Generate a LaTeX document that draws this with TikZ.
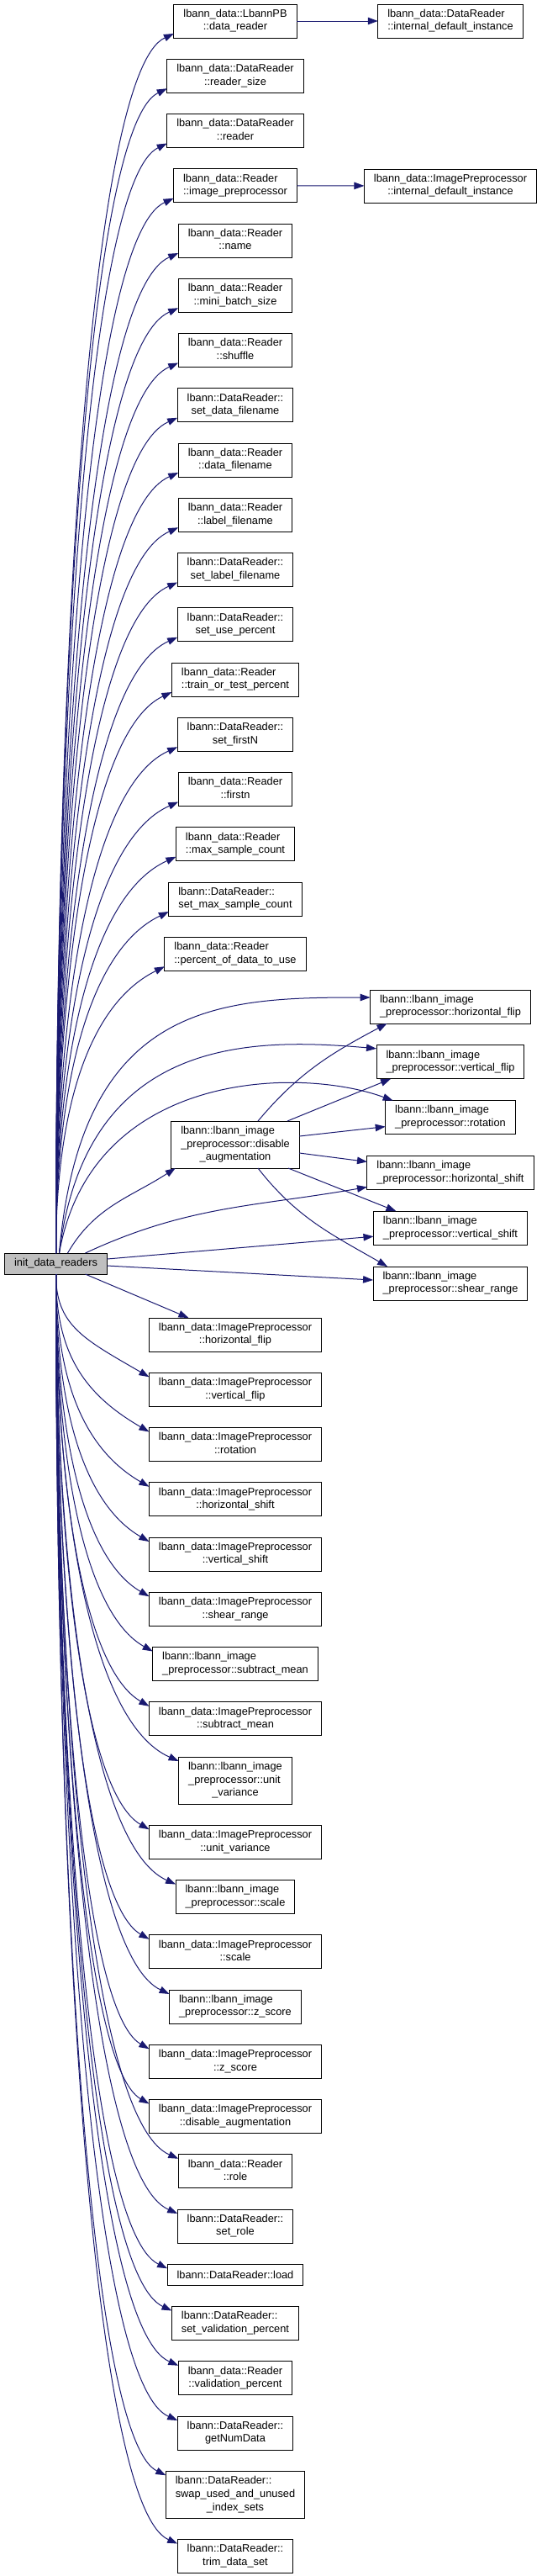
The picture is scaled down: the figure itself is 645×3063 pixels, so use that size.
\documentclass[tikz,border=0pt]{standalone}
\usepackage{fontspec}
\setmainfont{Liberation Sans}
\usetikzlibrary{arrows.meta, positioning, calc}
\definecolor{edgeblue}{RGB}{25,25,112}
\definecolor{rootgrey}{RGB}{191,191,191}
% two and three line labels: first lines left, last line centred
\newcommand{\fnlbl}[2]{\begin{tabular}{@{}l@{}}#1\\\multicolumn{1}{@{}c@{}}{#2}\end{tabular}}
\newcommand{\fnlblx}[3]{\begin{tabular}{@{}l@{}}#1\\#2\\\multicolumn{1}{@{}c@{}}{#3}\end{tabular}}

\begin{document}
\begin{tikzpicture}[
    x=1pt, y=1pt,
    node distance=25.25pt,
    fn/.style={rectangle, draw=black, fill=white, line width=1pt, outer sep=0pt, minimum height=40pt, inner xsep=11.5pt, inner ysep=0pt, font=\fontsize{12.8}{15.6}\selectfont},
    fnthree/.style={fn, minimum height=56pt},
    fnone/.style={fn, minimum height=25pt},
    root/.style={fnone, fill=rootgrey},
    arr/.style={-{Triangle[length=12pt, width=8.5pt]}, line width=1pt, edgeblue},
    callup/.style={to path={let \p1=(\tikztostart), \p2=(\tikztotarget) in .. controls (\x1,{0.5*\y1+0.5*\y2}) and ({\x1+0.3*(\x2-\x1)},{\y2-45}) .. (\tikztotarget)}},
    calldown/.style={to path={let \p1=(\tikztostart), \p2=(\tikztotarget) in .. controls (\x1,{0.5*\y1+0.5*\y2}) and ({\x1+0.3*(\x2-\x1)},{\y2+45}) .. (\tikztotarget)}},
]
\useasboundingbox (0,0) rectangle (645,-3063);

% Root
\node[root] (init) at (66.5,-1502.5) {init\_data\_readers};

% Callees above the root
\node[fn] (dreader) at (280,-25) {\fnlbl{lbann\_data::LbannPB}{::data\_reader}};
\node[fn, below=of dreader] (rsize) {\fnlbl{lbann\_data::DataReader}{::reader\_size}};
\node[fn, below=of rsize] (reader) {\fnlbl{lbann\_data::DataReader}{::reader}};
\node[fn, below=of reader] (imgpre) {\fnlbl{lbann\_data::Reader}{::image\_preprocessor}};
\node[fn, below=of imgpre] (name) {\fnlbl{lbann\_data::Reader}{::name}};
\node[fn, below=of name] (mbsize) {\fnlbl{lbann\_data::Reader}{::mini\_batch\_size}};
\node[fn, below=of mbsize] (shuffle) {\fnlbl{lbann\_data::Reader}{::shuffle}};
\node[fn, below=of shuffle] (setdfile) {\fnlbl{lbann::DataReader::}{set\_data\_filename}};
\node[fn, below=of setdfile] (dfile) {\fnlbl{lbann\_data::Reader}{::data\_filename}};
\node[fn, below=of dfile] (lfile) {\fnlbl{lbann\_data::Reader}{::label\_filename}};
\node[fn, below=of lfile] (setlfile) {\fnlbl{lbann::DataReader::}{set\_label\_filename}};
\node[fn, below=of setlfile] (setuse) {\fnlbl{lbann::DataReader::}{set\_use\_percent}};
\node[fn, below=of setuse] (ttpct) {\fnlbl{lbann\_data::Reader}{::train\_or\_test\_percent}};
\node[fn, below=of ttpct] (setfirst) {\fnlbl{lbann::DataReader::}{set\_firstN}};
\node[fn, below=of setfirst] (firstn) {\fnlbl{lbann\_data::Reader}{::firstn}};
\node[fn, below=of firstn] (maxcnt) {\fnlbl{lbann\_data::Reader}{::max\_sample\_count}};
\node[fn, below=of maxcnt] (setmax) {\fnlbl{lbann::DataReader::}{set\_max\_sample\_count}};
\node[fn, below=of setmax] (pctuse) {\fnlbl{lbann\_data::Reader}{::percent\_of\_data\_to\_use}};

% Second level
\node[fn] (rdefault) at (536,-25) {\fnlbl{lbann\_data::DataReader}{::internal\_default\_instance}};
\node[fn] (ipdefault) at (536,-221) {\fnlbl{lbann\_data::ImagePreprocessor}{::internal\_default\_instance}};
\node[fnthree] (ldisable) at (280,-1361) {\fnlblx{lbann::lbann\_image}{\_preprocessor::disable}{\_augmentation}};
\node[fn] (lhflip) at (536,-1197) {\fnlbl{lbann::lbann\_image}{\_preprocessor::horizontal\_flip}};
\node[fn, below=25.8pt of lhflip] (lvflip) {\fnlbl{lbann::lbann\_image}{\_preprocessor::vertical\_flip}};
\node[fn, below=25.8pt of lvflip] (lrot) {\fnlbl{lbann::lbann\_image}{\_preprocessor::rotation}};
\node[fn, below=25.8pt of lrot] (lhshift) {\fnlbl{lbann::lbann\_image}{\_preprocessor::horizontal\_shift}};
\node[fn, below=25.8pt of lhshift] (lvshift) {\fnlbl{lbann::lbann\_image}{\_preprocessor::vertical\_shift}};
\node[fn, below=25.8pt of lvshift] (lshear) {\fnlbl{lbann::lbann\_image}{\_preprocessor::shear\_range}};

% Callees below the root
\node[fn, below=178pt of ldisable] (iphflip) {\fnlbl{lbann\_data::ImagePreprocessor}{::horizontal\_flip}};
\node[fn, below=of iphflip] (ipvflip) {\fnlbl{lbann\_data::ImagePreprocessor}{::vertical\_flip}};
\node[fn, below=of ipvflip] (iprot) {\fnlbl{lbann\_data::ImagePreprocessor}{::rotation}};
\node[fn, below=of iprot] (iphshift) {\fnlbl{lbann\_data::ImagePreprocessor}{::horizontal\_shift}};
\node[fn, below=of iphshift] (ipvshift) {\fnlbl{lbann\_data::ImagePreprocessor}{::vertical\_shift}};
\node[fn, below=of ipvshift] (ipshear) {\fnlbl{lbann\_data::ImagePreprocessor}{::shear\_range}};
\node[fn, below=of ipshear] (lsubmean) {\fnlbl{lbann::lbann\_image}{\_preprocessor::subtract\_mean}};
\node[fn, below=of lsubmean] (ipsubmean) {\fnlbl{lbann\_data::ImagePreprocessor}{::subtract\_mean}};
\node[fnthree, below=of ipsubmean] (lunitvar) {\fnlblx{lbann::lbann\_image}{\_preprocessor::unit}{\_variance}};
\node[fn, below=of lunitvar] (ipunitvar) {\fnlbl{lbann\_data::ImagePreprocessor}{::unit\_variance}};
\node[fn, below=of ipunitvar] (lscale) {\fnlbl{lbann::lbann\_image}{\_preprocessor::scale}};
\node[fn, below=of lscale] (ipscale) {\fnlbl{lbann\_data::ImagePreprocessor}{::scale}};
\node[fn, below=of ipscale] (lzscore) {\fnlbl{lbann::lbann\_image}{\_preprocessor::z\_score}};
\node[fn, below=of lzscore] (ipzscore) {\fnlbl{lbann\_data::ImagePreprocessor}{::z\_score}};
\node[fn, below=of ipzscore] (ipdisable) {\fnlbl{lbann\_data::ImagePreprocessor}{::disable\_augmentation}};
\node[fn, below=of ipdisable] (role) {\fnlbl{lbann\_data::Reader}{::role}};
\node[fn, below=of role] (setrole) {\fnlbl{lbann::DataReader::}{set\_role}};
\node[fnone, below=of setrole] (load) {lbann::DataReader::load};
\node[fn, below=of load] (setvalid) {\fnlbl{lbann::DataReader::}{set\_validation\_percent}};
\node[fn, below=of setvalid] (validpct) {\fnlbl{lbann\_data::Reader}{::validation\_percent}};
\node[fn, below=of validpct] (getnum) {\fnlbl{lbann::DataReader::}{getNumData}};
\node[fnthree, below=of getnum] (swap) {\fnlblx{lbann::DataReader::}{swap\_used\_and\_unused}{\_index\_sets}};
\node[fn, below=of swap] (trim) {\fnlbl{lbann::DataReader::}{trim\_data\_set}};

% Calls going up
\draw[arr, callup] (init.north) to ([yshift=5pt]dreader.south west);
\draw[arr, callup] (init.north) to ([yshift=5pt]rsize.south west);
\draw[arr, callup] (init.north) to ([yshift=5pt]reader.south west);
\draw[arr, callup] (init.north) to ([yshift=5pt]imgpre.south west);
\draw[arr, callup] (init.north) to ([yshift=5pt]name.south west);
\draw[arr, callup] (init.north) to ([yshift=5pt]mbsize.south west);
\draw[arr, callup] (init.north) to ([yshift=5pt]shuffle.south west);
\draw[arr, callup] (init.north) to ([yshift=5pt]setdfile.south west);
\draw[arr, callup] (init.north) to ([yshift=5pt]dfile.south west);
\draw[arr, callup] (init.north) to ([yshift=5pt]lfile.south west);
\draw[arr, callup] (init.north) to ([yshift=5pt]setlfile.south west);
\draw[arr, callup] (init.north) to ([yshift=5pt]setuse.south west);
\draw[arr, callup] (init.north) to ([yshift=5pt]ttpct.south west);
\draw[arr, callup] (init.north) to ([yshift=5pt]setfirst.south west);
\draw[arr, callup] (init.north) to ([yshift=5pt]firstn.south west);
\draw[arr, callup] (init.north) to ([yshift=5pt]maxcnt.south west);
\draw[arr, callup] (init.north) to ([yshift=5pt]setmax.south west);
\draw[arr, callup] (init.north) to ([yshift=5pt]pctuse.south west);

% Calls to the image preprocessor
\draw[arr] ([xshift=14pt]init.north) to[out=60, in=213] ([xshift=5pt]ldisable.south west);
\draw[arr] ([xshift=4pt]init.north) .. controls +(85:300) and +(180:180) .. ([yshift=11pt]lhflip.west);
\draw[arr] ([xshift=4pt]init.north) .. controls +(83:260) and +(175:150) .. ([yshift=16pt]lvflip.west);
\draw[arr] ([xshift=4pt]init.north) .. controls +(80:220) and +(160:120) .. ([xshift=9pt]lrot.north west);
\draw[arr] ([xshift=35pt]init.north) to[out=25, in=190] ([yshift=-17pt]lhshift.west);
\draw[arr] ([yshift=5.5pt]init.east) -- ([yshift=-10pt]lvshift.west);
\draw[arr] ([yshift=-2.5pt]init.east) -- ([yshift=4pt]lshear.west);

\draw[arr] ([xshift=27pt]ldisable.north) to[out=50, in=208] ([xshift=20pt]lhflip.south west);
\draw[arr] ([xshift=62pt]ldisable.north) -- ([xshift=17pt]lvflip.south west);
\draw[arr] ([yshift=10pt]ldisable.east) -- ([yshift=-11pt]lrot.west);
\draw[arr] ([yshift=-10pt]ldisable.east) -- ([yshift=13pt]lhshift.west);
\draw[arr] ([xshift=63pt]ldisable.south) -- ([xshift=27pt]lvshift.north west);
\draw[arr] ([xshift=27pt]ldisable.south) to[out=-52, in=150] ([xshift=17pt]lshear.north west);

\draw[arr] (dreader) -- (rdefault);
\draw[arr] (imgpre) -- (ipdefault);

% Calls going down
\draw[arr] ([xshift=35pt]init.south) -- ([xshift=47pt]iphflip.north west);
\draw[arr, calldown] (init.south) to ([yshift=-5pt]ipvflip.north west);
\draw[arr, calldown] (init.south) to ([yshift=-5pt]iprot.north west);
\draw[arr, calldown] (init.south) to ([yshift=-5pt]iphshift.north west);
\draw[arr, calldown] (init.south) to ([yshift=-5pt]ipvshift.north west);
\draw[arr, calldown] (init.south) to ([yshift=-5pt]ipshear.north west);
\draw[arr, calldown] (init.south) to ([yshift=-5pt]lsubmean.north west);
\draw[arr, calldown] (init.south) to ([yshift=-5pt]ipsubmean.north west);
\draw[arr, calldown] (init.south) to ([yshift=-5pt]lunitvar.north west);
\draw[arr, calldown] (init.south) to ([yshift=-5pt]ipunitvar.north west);
\draw[arr, calldown] (init.south) to ([yshift=-5pt]lscale.north west);
\draw[arr, calldown] (init.south) to ([yshift=-5pt]ipscale.north west);
\draw[arr, calldown] (init.south) to ([yshift=-5pt]lzscore.north west);
\draw[arr, calldown] (init.south) to ([yshift=-5pt]ipzscore.north west);
\draw[arr, calldown] (init.south) to ([yshift=-5pt]ipdisable.north west);
\draw[arr, calldown] (init.south) to ([yshift=-5pt]role.north west);
\draw[arr, calldown] (init.south) to ([yshift=-5pt]setrole.north west);
\draw[arr, calldown] (init.south) to ([yshift=-5pt]load.north west);
\draw[arr, calldown] (init.south) to ([yshift=-5pt]setvalid.north west);
\draw[arr, calldown] (init.south) to ([yshift=-5pt]validpct.north west);
\draw[arr, calldown] (init.south) to ([yshift=-5pt]getnum.north west);
\draw[arr, calldown] (init.south) to ([yshift=-5pt]swap.north west);
\draw[arr, calldown] (init.south) to ([yshift=-5pt]trim.north west);

\end{tikzpicture}
\end{document}
